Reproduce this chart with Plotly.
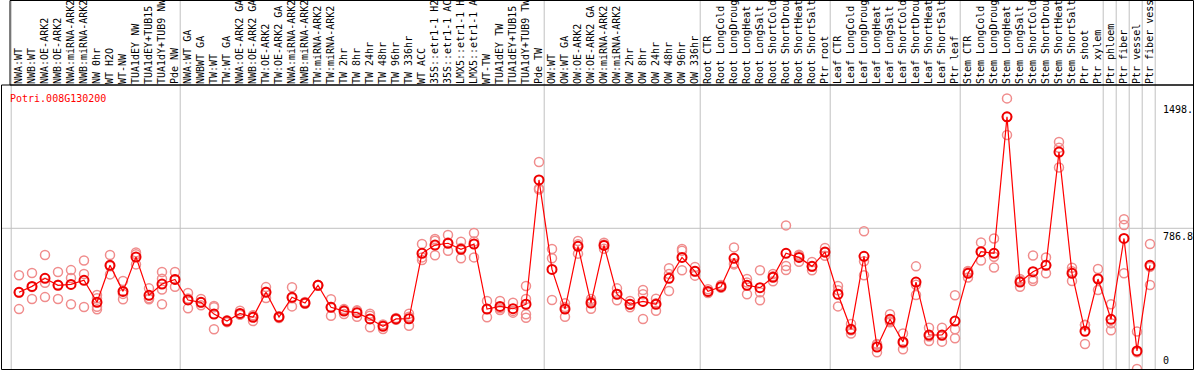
import plotly.graph_objects as go

labels = [
    "NWA:WT", "NWB:WT", "NWA:OE-ARK2", "NWB:OE-ARK2", "NWA:miRNA-ARK2", "NWB:miRNA-ARK2",
    "NW 0hr", "WT H2O", "WT-NW", "TUA1dEY NW", "TUA1dEY+TUB15 ", "TUA1dY+TUB9 NW", "Pde NW",
    "NWA:WT GA", "NWBWT GA", "TW:WT", "TW:WT GA", "NWA:OE-ARK2 GA", "NWB:OE-ARK2 GA",
    "TW:OE-ARK2", "TW:OE-ARK2 GA", "NWA:miRNA-ARK2", "NWB:miRNA-ARK2", "TW:miRNA-ARK2",
    "TW:miRNA-ARK2", "TW 2hr", "TW 8hr", "TW 24hr", "TW 48hr", "TW 96hr", "TW 336hr",
    "WT ACC", "35S::etr1-1 H2", "35S::etr1-1 AC", "LMX5::etr1-1 H", "LMX5::etr1-1 A",
    "WT-TW", "TUA1dEY TW", "TUA1dEY+TUB15 ", "TUA1dY+TUB9 TW", "Pde TW",
    "OW:WT", "OW:WT GA", "OW:OE-ARK2", "OW:OE-ARK2 GA", "OW:miRNA-ARK2", "OW:miRNA-ARK2",
    "OW 2hr", "OW 8hr", "OW 24hr", "OW 48hr", "OW 96hr", "OW 336hr",
    "Root CTR", "Root LongCold", "Root LongDroug", "Root LongHeat", "Root LongSalt",
    "Root ShortCold", "Root ShortDrou", "Root ShortHeat", "Root ShortSalt", "Ptr root",
    "Leaf CTR", "Leaf LongCold", "Leaf LongDroug", "Leaf LongHeat", "Leaf LongSalt",
    "Leaf ShortCold", "Leaf ShortDrou", "Leaf ShortHeat", "Leaf ShortSalt", "Ptr leaf",
    "Stem CTR", "Stem LongCold", "Stem LongDroug", "Stem LongHeat", "Stem LongSalt",
    "Stem ShortCold", "Stem ShortDrou", "Stem ShortHeat", "Stem ShortSalt", "Ptr shoot",
    "Ptr xylem", "Ptr phloem", "Ptr fiber", "Ptr vessel", "Ptr fiber vess",
]

group_sizes = [13, 28, 12, 10, 10, 11, 1, 1, 1, 1]

means = [
    429, 462, 507, 468, 473, 496, 373, 580, 434, 626, 412, 475, 501,
    386, 373, 307, 268, 311, 289, 429, 291, 401, 369, 468, 345, 324, 315, 280, 239, 280, 281,
    647, 693, 703, 669, 699, 335, 350, 337, 362, 1057,
    557, 335, 686, 369, 691, 418, 362, 378, 362, 507, 624, 546,
    434, 460, 619, 468, 455, 513, 647, 624, 574, 654,
    418, 222, 630, 123, 278, 151, 486, 190, 190, 268,
    535, 656, 647, 1410, 486, 544, 580, 1213, 535, 211, 503,
    278, 730, 101, 580,
]

rep1 = [
    524, 537, 637, 542, 553, 607, 414, 637, 492, 652, 451, 542, 542,
    425, 391, 352, 272, 326, 300, 458, 295, 457, 375, 470, 390, 335, 328, 309, 249, 285, 309,
    699, 727, 749, 712, 760, 380, 380, 371, 464, 1157,
    671, 367, 716, 391, 706, 451, 380, 442, 393, 563, 671, 570,
    446, 470, 680, 503, 552, 531, 803, 639, 598, 677,
    464, 252, 770, 140, 306, 199, 574, 231, 231, 412,
    548, 708, 730, 1513, 503, 635, 624, 1269, 566, 247, 559,
    362, 838, 209, 699,
]

rep2 = [
    428, 458, 482, 471, 509, 531, 348, 574, 420, 641, 395, 505, 501,
    394, 372, 345, 270, 304, 298, 432, 292, 396, 367, 469, 347, 330, 325, 298, 245, 280, 292,
    624, 717, 708, 676, 713, 336, 340, 325, 391, 1010,
    619, 346, 697, 379, 696, 419, 361, 418, 367, 531, 661, 546,
    431, 456, 592, 483, 429, 518, 576, 633, 572, 652,
    440, 216, 602, 136, 267, 144, 471, 182, 186, 222,
    545, 654, 628, 1409, 495, 505, 581, 1237, 547, 246, 508,
    256, 805, 94, 571,
]

rep3 = [
    335, 391, 402, 391, 362, 347, 334, 529, 390, 585, 390, 445, 460,
    339, 356, 222, 262, 304, 268, 397, 285, 350, 365, 465, 298, 307, 292, 233, 224, 275, 242,
    609, 636, 661, 619, 624, 289, 330, 315, 306, 1004,
    386, 292, 645, 337, 672, 384, 345, 280, 326, 436, 552, 522,
    425, 455, 585, 418, 384, 490, 554, 600, 552, 633,
    350, 198, 524, 93, 261, 110, 414, 157, 153, 172,
    512, 606, 568, 1308, 460, 492, 535, 1127, 492, 140, 442,
    216, 535, 0, 470,
]

rep4 = [None] * 88
rep4[6] = 396
rep4[11] = 362
rep4[39] = 287

axis_ticks = [1498, 786.8, 0]
axis_tick_text = ["1498.", "786.8", "0"]
gene = "Potri.008G130200"

# ---- layout geometry ----
W, H = 1194, 370
ML, MR, MT, MB = 2, 1, 85, 1
PW = W - ML - MR
PH = H - MT - MB
step = 13.0
x0 = -17.0 / step
x1 = x0 + PW / step
y_top = 1588

def px2paper_x(px):
    return (px - ML) / PW

def py2paper_y(py):
    return (H - MB - py) / PH

def data2paper_x(v):
    return (v - x0) / (x1 - x0)

idx = list(range(len(labels)))
FONT = "DejaVu Sans Mono"
rep_color = "#f08c8c"

fig = go.Figure()

rx, ry = [], []
for reps in (rep1, rep2, rep3, rep4):
    for i, v in zip(idx, reps):
        if v is not None:
            rx.append(i)
            ry.append(v)

fig.add_trace(go.Scatter(
    x=rx, y=ry, mode="markers",
    marker=dict(symbol="circle-open", size=9, color=rep_color, line=dict(width=1.5, color=rep_color)),
    hoverinfo="skip", showlegend=False,
))

fig.add_trace(go.Scatter(
    x=idx, y=means, mode="lines+markers",
    line=dict(color="#ff0000", width=1.2),
    marker=dict(symbol="circle-open", size=9, color="#ee0000", line=dict(width=2, color="#ee0000")),
    showlegend=False,
))

shapes = []
start = 0
bounds = []
for g in group_sizes:
    bounds.append(start - 0.6)
    start += g
bounds.append(start - 1 + 0.4)
for b in bounds:
    xp = data2paper_x(b)
    shapes.append(dict(type="line", xref="paper", yref="paper", x0=xp, x1=xp,
                       y0=0, y1=py2paper_y(0), line=dict(color="#c0c0c0", width=1), layer="below"))

shapes.append(dict(type="line", xref="paper", yref="y", x0=0, x1=1, y0=786.8, y1=786.8,
                   line=dict(color="#c0c0c0", width=1), layer="below"))

shapes.append(dict(type="rect", xref="paper", yref="paper",
                   x0=px2paper_x(10), x1=px2paper_x(1193.5), y0=py2paper_y(85), y1=py2paper_y(0.5),
                   line=dict(color="black", width=1), fillcolor="rgba(0,0,0,0)"))
shapes.append(dict(type="rect", xref="paper", yref="paper",
                   x0=px2paper_x(1.5), x1=px2paper_x(1193.5), y0=py2paper_y(369.5), y1=py2paper_y(85),
                   line=dict(color="black", width=1), fillcolor="rgba(0,0,0,0)"))

annotations = []
for v, t in zip(axis_ticks, axis_tick_text):
    annotations.append(dict(
        x=px2paper_x(1161), xref="paper", y=v, yref="y",
        text=t, showarrow=False, xanchor="left",
        yanchor="bottom" if v == 0 else "top",
        yshift=1 if v == 0 else -1,
        font=dict(family=FONT, size=10, color="black"),
    ))
annotations.append(dict(
    x=px2paper_x(8), xref="paper", y=py2paper_y(91), yref="paper",
    text=gene, showarrow=False, xanchor="left", yanchor="top",
    font=dict(family=FONT, size=10, color="#ff0000"),
))

fig.update_layout(
    width=W, height=H,
    margin=dict(l=ML, r=MR, t=MT, b=MB, pad=0, autoexpand=False),
    paper_bgcolor="white", plot_bgcolor="white",
    shapes=shapes, annotations=annotations,
    xaxis=dict(range=[x0, x1], side="top", tickmode="array", tickvals=idx, ticktext=labels,
               tickangle=-90, tickfont=dict(family=FONT, size=10, color="black"),
               showgrid=False, zeroline=False, showline=False, ticks="", fixedrange=True,
               automargin=False),
    yaxis=dict(range=[0, y_top], showgrid=False, zeroline=False, showline=False,
               showticklabels=False, ticks="", fixedrange=True, automargin=False),
)

fig.write_html("out.html", config={"displayModeBar": False},
               post_script="document.body.style.margin='0px';document.body.style.overflow='hidden';")
